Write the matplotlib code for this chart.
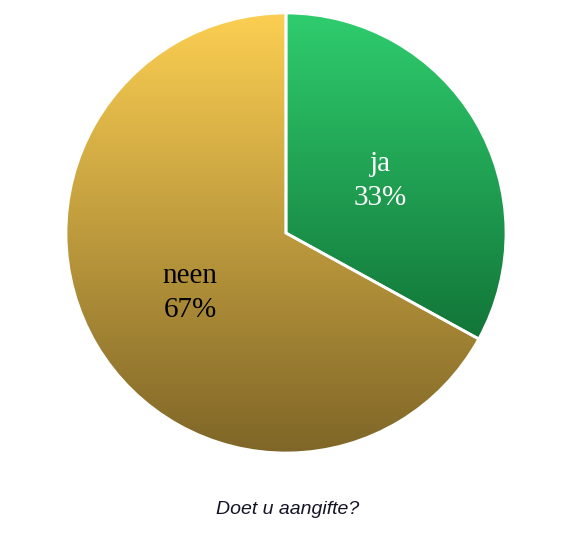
import numpy as np
import matplotlib
matplotlib.use("Agg")
import matplotlib.pyplot as plt
from matplotlib.colors import LinearSegmentedColormap

labels = ["ja", "neen"]
shares = [33, 67]
top_colors = ["#2fcd6e", "#fccf52"]
bottom_colors = ["#127538", "#7f6628"]
text_colors = ["white", "black"]
title = "Doet u aangifte?"

fig = plt.figure(figsize=(5.85, 5.4), dpi=100)
ax = fig.add_axes([0, 0, 1, 1])

cx, cy, r = 286, 540 - 233, 220
wedges, _ = ax.pie(shares, startangle=90, counterclock=False,
                   center=(cx, cy), radius=r,
                   wedgeprops=dict(edgecolor="white", linewidth=2))

# vertical gradient fill clipped to each wedge
for w, c_top, c_bot in zip(wedges, top_colors, bottom_colors):
    ext = w.get_path().get_extents()
    cmap = LinearSegmentedColormap.from_list("g", [c_bot, c_top])
    grad = np.linspace(0, 1, 256).reshape(-1, 1)
    im = ax.imshow(grad, cmap=cmap, origin="lower", aspect="auto",
                   extent=[ext.x0, ext.x1, ext.y0, ext.y1], zorder=1)
    im.set_clip_path(w)
    w.set_facecolor("none")
    w.set_zorder(2)

label_pos = [(380, 540 - 181), (190, 540 - 293)]
for lab, s, (x, y), tc in zip(labels, shares, label_pos, text_colors):
    ax.text(x, y, f"{lab}\n{s}%", ha="center", va="center", color=tc,
            fontsize=21, family=["Liberation Serif", "DejaVu Serif"],
            linespacing=1.4, zorder=3)

ax.text(288, 540 - 509, title, ha="center", va="center", color="#141426",
        fontsize=14, style="italic",
        family=["Liberation Sans Narrow", "Liberation Sans", "DejaVu Sans"])

ax.set_xlim(0, 585)
ax.set_ylim(0, 540)
ax.set_aspect("auto")
ax.axis("off")

fig.savefig("out.png", dpi=100)
